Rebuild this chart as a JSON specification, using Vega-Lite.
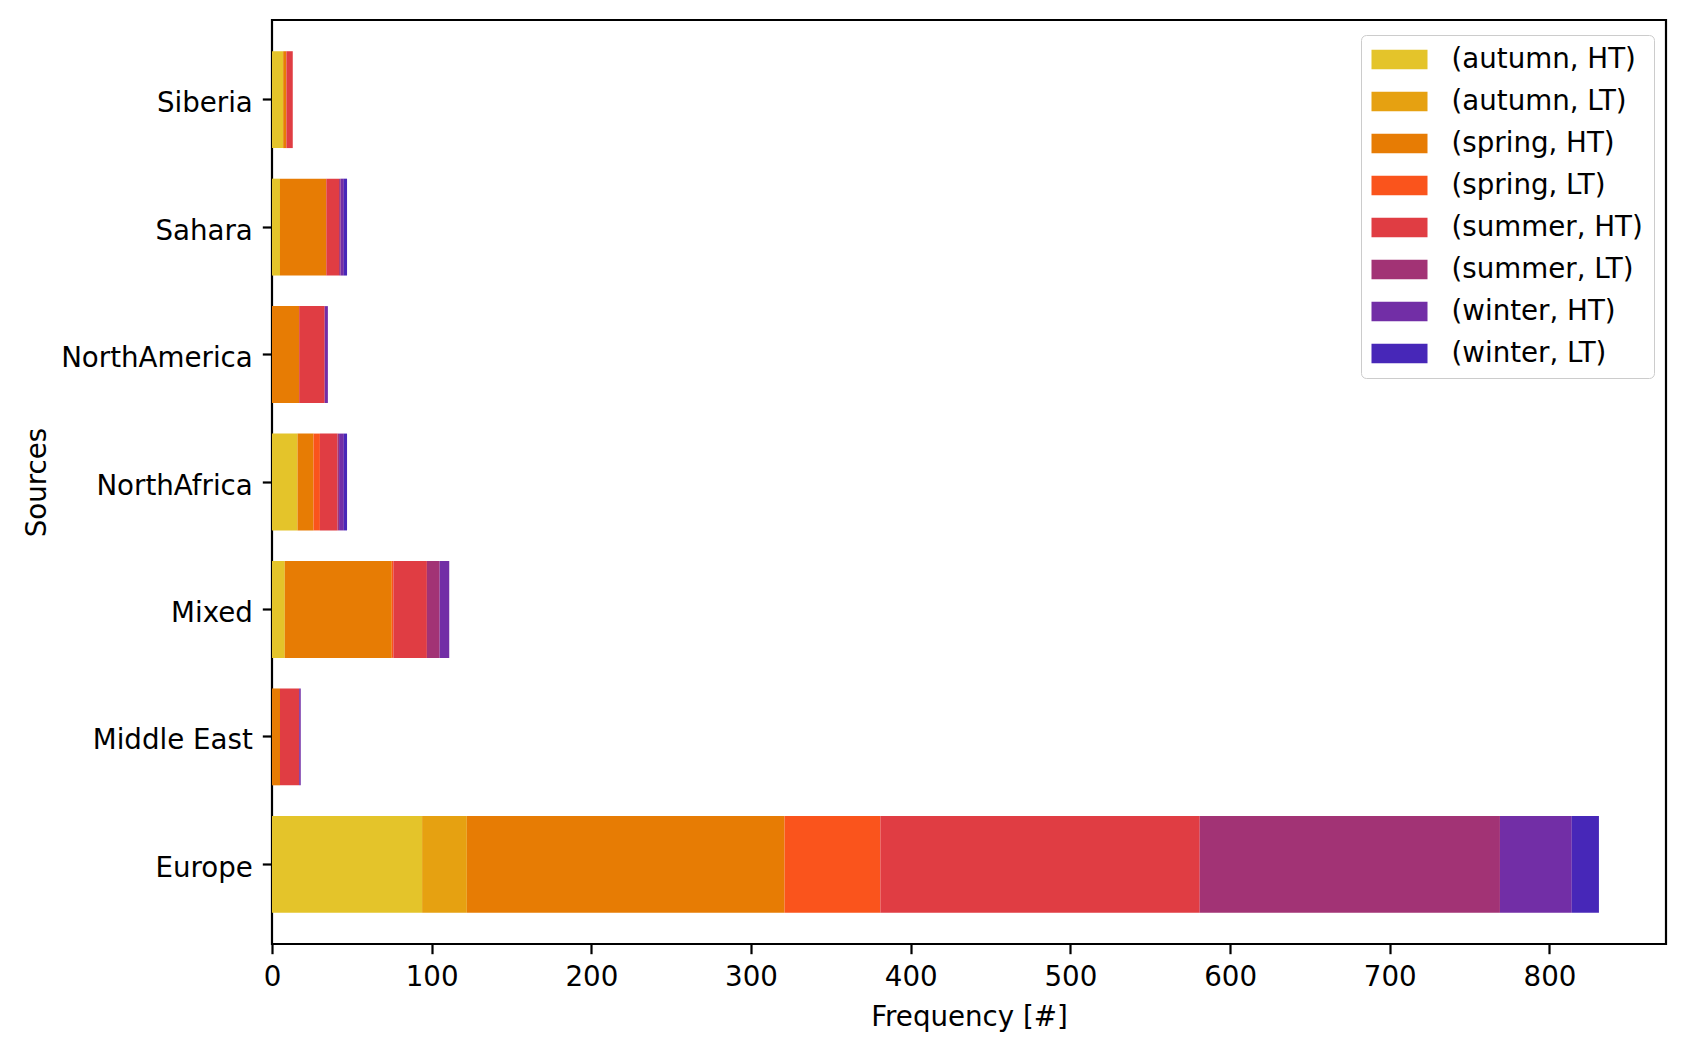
{
  "$schema": "https://vega.github.io/schema/vega-lite/v6.json",
  "width": 1394,
  "height": 924,
  "autosize": "none",
  "padding": {"left": 272, "top": 20, "right": 24, "bottom": 106},
  "background": "white",
  "config": {
    "font": "DejaVu Sans",
    "view": {"stroke": "#000000", "strokeWidth": 2.2},
    "axis": {
      "domain": false,
      "grid": false,
      "tickColor": "#000000",
      "tickWidth": 2.2,
      "tickSize": 9.7,
      "labelFont": "DejaVu Sans",
      "labelFontSize": 27.7,
      "labelColor": "#000000",
      "titleFont": "DejaVu Sans",
      "titleFontSize": 27.7,
      "titleFontWeight": "normal",
      "titleColor": "#000000",
      "labelPadding": 10
    }
  },
  "data": {
    "values": [
      {"source": "Siberia", "group": "(autumn, HT)", "count": 7},
      {"source": "Siberia", "group": "(spring, HT)", "count": 2},
      {"source": "Siberia", "group": "(summer, HT)", "count": 4},
      {"source": "Sahara", "group": "(autumn, HT)", "count": 5},
      {"source": "Sahara", "group": "(spring, HT)", "count": 29},
      {"source": "Sahara", "group": "(summer, HT)", "count": 8},
      {"source": "Sahara", "group": "(summer, LT)", "count": 1},
      {"source": "Sahara", "group": "(winter, HT)", "count": 2},
      {"source": "Sahara", "group": "(winter, LT)", "count": 2},
      {"source": "NorthAmerica", "group": "(spring, HT)", "count": 17},
      {"source": "NorthAmerica", "group": "(summer, HT)", "count": 16},
      {"source": "NorthAmerica", "group": "(winter, HT)", "count": 2},
      {"source": "NorthAfrica", "group": "(autumn, HT)", "count": 16},
      {"source": "NorthAfrica", "group": "(spring, HT)", "count": 10},
      {"source": "NorthAfrica", "group": "(spring, LT)", "count": 4},
      {"source": "NorthAfrica", "group": "(summer, HT)", "count": 11},
      {"source": "NorthAfrica", "group": "(summer, LT)", "count": 1},
      {"source": "NorthAfrica", "group": "(winter, HT)", "count": 3},
      {"source": "NorthAfrica", "group": "(winter, LT)", "count": 2},
      {"source": "Mixed", "group": "(autumn, HT)", "count": 8},
      {"source": "Mixed", "group": "(spring, HT)", "count": 67},
      {"source": "Mixed", "group": "(spring, LT)", "count": 1},
      {"source": "Mixed", "group": "(summer, HT)", "count": 21},
      {"source": "Mixed", "group": "(summer, LT)", "count": 8},
      {"source": "Mixed", "group": "(winter, HT)", "count": 6},
      {"source": "Middle East", "group": "(spring, HT)", "count": 5},
      {"source": "Middle East", "group": "(summer, HT)", "count": 12},
      {"source": "Middle East", "group": "(winter, HT)", "count": 1},
      {"source": "Europe", "group": "(autumn, HT)", "count": 94},
      {"source": "Europe", "group": "(autumn, LT)", "count": 28},
      {"source": "Europe", "group": "(spring, HT)", "count": 199},
      {"source": "Europe", "group": "(spring, LT)", "count": 60},
      {"source": "Europe", "group": "(summer, HT)", "count": 200},
      {"source": "Europe", "group": "(summer, LT)", "count": 188},
      {"source": "Europe", "group": "(winter, HT)", "count": 45},
      {"source": "Europe", "group": "(winter, LT)", "count": 17}
    ]
  },
  "mark": {"type": "bar"},
  "encoding": {
    "y": {
      "field": "source",
      "type": "nominal",
      "sort": ["Siberia", "Sahara", "NorthAmerica", "NorthAfrica", "Mixed", "Middle East", "Europe"],
      "scale": {"paddingInner": 0.24, "paddingOuter": 0.245},
      "axis": {"title": "Sources", "titlePadding": 21, "labelLimit": 400, "labelOffset": 4.5}
    },
    "x": {
      "field": "count",
      "type": "quantitative",
      "aggregate": "sum",
      "stack": "zero",
      "scale": {"domain": [0, 873], "nice": false, "zero": true},
      "axis": {"title": "Frequency [#]", "values": [0, 100, 200, 300, 400, 500, 600, 700, 800], "labelFlush": false, "titlePadding": 12}
    },
    "color": {
      "field": "group",
      "type": "nominal",
      "scale": {
        "domain": ["(autumn, HT)", "(autumn, LT)", "(spring, HT)", "(spring, LT)", "(summer, HT)", "(summer, LT)", "(winter, HT)", "(winter, LT)"],
        "range": ["#e4c42a", "#e6a111", "#e77c04", "#fa541c", "#e03d43", "#a23375", "#722ea6", "#4727b8"]
      },
      "legend": {
        "title": null,
        "orient": "none",
        "legendX": 1089,
        "legendY": 15,
        "symbolType": "M-1,-0.7H3V0.7H-1Z",
        "symbolSize": 784,
        "symbolStrokeWidth": 0,
        "symbolOpacity": 1,
        "labelFont": "DejaVu Sans",
        "labelFontSize": 27.7,
        "labelColor": "#000000",
        "labelOffset": 52,
        "labelLimit": 400,
        "rowPadding": 14,
        "padding": 10.5,
        "fillColor": "#ffffff",
        "strokeColor": "#cccccc",
        "cornerRadius": 5
      }
    },
    "order": {"field": "group", "sort": "ascending"}
  }
}
